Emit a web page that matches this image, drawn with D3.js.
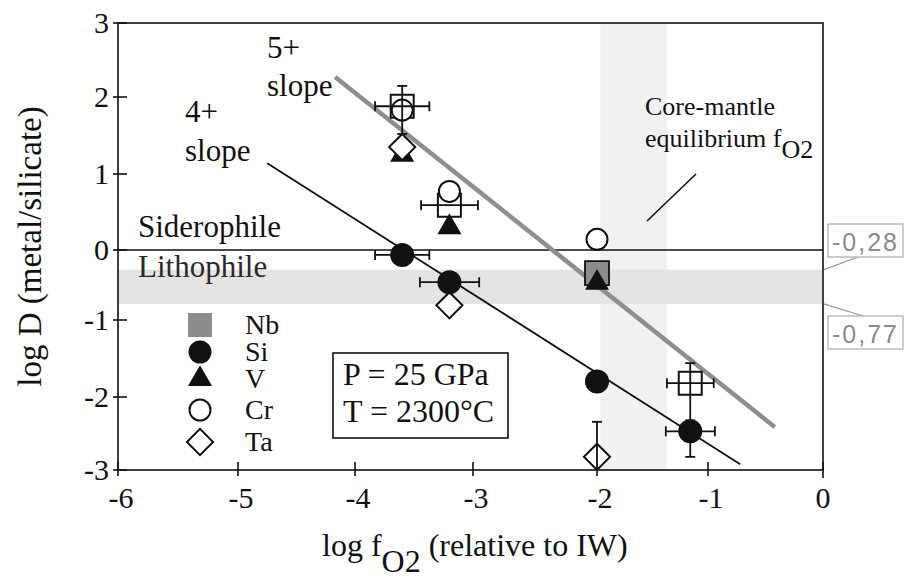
<!DOCTYPE html>
<html>
<head>
<meta charset="utf-8">
<script src="https://cdn.jsdelivr.net/npm/d3@7"></script>
<style>
  html, body { margin: 0; padding: 0; background: #fff; }
  svg { display: block; }
  svg text { font-family: "Liberation Serif", "Times New Roman", Times, "DejaVu Serif", serif; }
  svg text.tag { font-family: "Liberation Sans", Arial, sans-serif; }
</style>
</head>
<body>
<div id="wrapper"></div>
<script>
/* DATA */
// each point: x = log fO2, y = log D, optional xErr and yErr [below, above]
const nbPoints = [{ x: -2, y: -0.33 }];
const siPoints = [
  { x: -3.6, y: -0.07, xErr: 0.23 },
  { x: -3.2, y: -0.46, xErr: 0.25 },
  { x: -2, y: -1.80 },
  { x: -1.16, y: -2.47, xErr: 0.22, yErr: [0.35, 0] }
];
const vPoints = [{ x: -3.6, y: 1.25 }, { x: -3.2, y: 0.30 }, { x: -2, y: -0.47 }];
const crPoints = [{ x: -3.6, y: 1.83 }, { x: -3.2, y: 0.77 }, { x: -2, y: 0.14 }];
const taPoints = [
  { x: -3.6, y: 1.35 },
  { x: -3.2, y: -0.79 },
  { x: -2, y: -2.82, yErr: [0.48, 0.48] }
];
const openSquarePoints = [
  { x: -3.6, y: 1.88, xErr: 0.23, yErr: [0.36, 0.27] },
  { x: -3.2, y: 0.59, xErr: 0.24 },
  { x: -1.16, y: -1.82, xErr: 0.21, yErr: [0.5, 0.26] }
];

const slope4Line = [{ x: -4.75, y: 1.14 }, { x: -0.72, y: -2.92 }];
const slope5Line = [{ x: -4.17, y: 2.27 }, { x: -0.42, y: -2.41 }];

const lithophileBand = [-0.77, -0.28];
const coreMantleBand = [-1.97, -1.37];

const xTicks = [-6, -5, -4, -3, -2, -1, 0];
const yTicks = [-3, -2, -1, 0, 1, 2, 3];

const legendNames = ['Nb', 'Si', 'V', 'Cr', 'Ta'];

/* DIMENSIONS */
const width = 904;
const height = 579;

/* SCALES */
// the scanned figure is slightly uneven, so the scales follow each tick
const xScale = d3.scaleLinear()
  .domain(xTicks)
  .range([118, 238, 355, 473, 597, 708, 823]);

const yScale = d3.scaleLinear()
  .domain(yTicks)
  .range([470, 397, 320, 250, 174, 97, 23]);

const x0 = xScale(-6), x1 = xScale(0);
const yTop = yScale(3), yBottom = yScale(-3);

/* DRAW */
const svg = d3.select('#wrapper')
  .append('svg')
  .attr('width', width)
  .attr('height', height)
  .attr('viewBox', [0, 0, width, height]);

svg.append('defs').append('clipPath').attr('id', 'plot-clip')
  .append('rect')
  .attr('x', x0).attr('y', yTop)
  .attr('width', x1 - x0).attr('height', yBottom - yTop);

// bands
svg.append('rect')
  .attr('x', xScale(coreMantleBand[0]))
  .attr('width', xScale(coreMantleBand[1]) - xScale(coreMantleBand[0]))
  .attr('y', yTop)
  .attr('height', yBottom - yTop)
  .attr('fill', '#f1f1f1');

svg.append('rect')
  .attr('x', x0)
  .attr('width', x1 - x0)
  .attr('y', yScale(lithophileBand[1]))
  .attr('height', yScale(lithophileBand[0]) - yScale(lithophileBand[1]))
  .attr('fill', '#e3e3e3');

// zero line
svg.append('line')
  .attr('x1', x0).attr('x2', x1)
  .attr('y1', yScale(0)).attr('y2', yScale(0))
  .attr('stroke', '#111').attr('stroke-width', 1.6);

// frame
svg.append('rect')
  .attr('x', x0).attr('y', yTop)
  .attr('width', x1 - x0).attr('height', yBottom - yTop)
  .attr('fill', 'none')
  .attr('stroke', '#111')
  .attr('stroke-width', 1.6);

// ticks + labels
const tickGroup = svg.append('g').attr('stroke', '#111').attr('stroke-width', 1.6);
tickGroup.selectAll('.ytick').data(yTicks).enter().append('line')
  .attr('x1', x0 - 5).attr('x2', x0 + 9)
  .attr('y1', d => yScale(d)).attr('y2', d => yScale(d));
tickGroup.selectAll('.xtick').data(xTicks).enter().append('line')
  .attr('x1', d => xScale(d)).attr('x2', d => xScale(d))
  .attr('y1', yBottom - 8).attr('y2', d => d === 0 ? yBottom + 8 : yBottom + 6);

svg.append('g')
  .attr('font-size', 30)
  .attr('text-anchor', 'end')
  .attr('fill', '#111')
  .selectAll('text').data(yTicks).enter().append('text')
  .attr('x', x0 - 9)
  .attr('y', d => yScale(d) + 10)
  .text(d => d);

svg.append('g')
  .attr('font-size', 30)
  .attr('text-anchor', 'middle')
  .attr('fill', '#111')
  .selectAll('text').data(xTicks).enter().append('text')
  .attr('x', d => xScale(d) + (d < 0 ? 3 : 0))
  .attr('y', yBottom + 38)
  .text(d => d);

// axis titles
svg.append('text')
  .attr('transform', `translate(41 ${(yTop + yBottom) / 2}) rotate(-90)`)
  .attr('text-anchor', 'middle')
  .attr('font-size', 33)
  .attr('fill', '#111')
  .text('log D (metal/silicate)');

const xTitle = svg.append('text')
  .attr('x', 322).attr('y', 556)
  .attr('font-size', 32)
  .attr('fill', '#111');
xTitle.append('tspan').text('log f');
xTitle.append('tspan').attr('dy', 16).text('O2');
xTitle.append('tspan').attr('dy', -16).text(' (relative to IW)');

// slope lines
const lineGen = d3.line().x(d => xScale(d.x)).y(d => yScale(d.y));
svg.append('path')
  .attr('d', lineGen(slope4Line))
  .attr('fill', 'none').attr('stroke', '#111').attr('stroke-width', 1.8);
svg.append('path')
  .attr('d', lineGen(slope5Line))
  .attr('fill', 'none').attr('stroke', '#8e8e8e').attr('stroke-width', 4.5);

// annotations
const notes = svg.append('g').attr('font-size', 31).attr('fill', '#111');
notes.append('text').attr('x', 267).attr('y', 58).text('5+');
notes.append('text').attr('x', 267).attr('y', 96).text('slope');
notes.append('text').attr('x', 185).attr('y', 122).text('4+');
notes.append('text').attr('x', 185).attr('y', 161).text('slope');
notes.append('text').attr('x', 138).attr('y', 237).text('Siderophile');
notes.append('text').attr('x', 138).attr('y', 277).attr('fill', '#2a2a2a').text('Lithophile');

const core = svg.append('g').attr('font-size', 26).attr('fill', '#111');
core.append('text').attr('x', 645).attr('y', 115).text('Core-mantle');
const eq = core.append('text').attr('x', 645).attr('y', 147);
eq.append('tspan').text('equilibrium f');
eq.append('tspan').attr('dy', 11).text('O2');
svg.append('line')
  .attr('x1', 647).attr('y1', 221).attr('x2', 696).attr('y2', 174)
  .attr('stroke', '#111').attr('stroke-width', 1.6);

// P T box
svg.append('rect')
  .attr('x', 333).attr('y', 353).attr('width', 175).attr('height', 85)
  .attr('fill', '#fff').attr('stroke', '#111').attr('stroke-width', 1.6);
const pt = svg.append('g').attr('font-size', 32).attr('fill', '#111');
pt.append('text').attr('x', 343).attr('y', 385).text('P = 25 GPa');
pt.append('text').attr('x', 343).attr('y', 422).text('T = 2300°C');

// band value tags on the right
const tags = [
  { value: lithophileBand[1], label: '-0,28', boxY: 224, joinX: 858, joinY: 257 },
  { value: lithophileBand[0], label: '-0,77', boxY: 316, joinX: 863, joinY: 316 }
];
const tagG = svg.append('g');
tags.forEach(t => {
  tagG.append('line')
    .attr('x1', x1 + 1).attr('y1', yScale(t.value))
    .attr('x2', t.joinX).attr('y2', t.joinY)
    .attr('stroke', '#999').attr('stroke-width', 1.2);
  tagG.append('rect')
    .attr('x', 828).attr('y', t.boxY).attr('width', 75).attr('height', 33)
    .attr('fill', '#fff').attr('stroke', '#aaa').attr('stroke-width', 1.2);
  tagG.append('text')
    .attr('class', 'tag')
    .attr('x', 832).attr('y', t.boxY + 27)
    .attr('font-size', 25)
    .attr('letter-spacing', 2)
    .attr('fill', '#8a8a8a')
    .text(t.label);
});

/* MARKERS */
const markers = svg.append('g').attr('clip-path', 'url(#plot-clip)');

const sym = (type, size) => d3.symbol().type(type).size(size)();
const triPath = sym(d3.symbolTriangle, 250);
const squarePath = sym(d3.symbolSquare, 23 * 23);
const nbPath = sym(d3.symbolSquare, 24 * 24);
const diamondPath = sym(d3.symbolSquare, 18.5 * 18.5);

function errorBars(points) {
  const g = markers.append('g').attr('stroke', '#111').attr('stroke-width', 1.8);
  const cap = 5;
  points.forEach(p => {
    const px = xScale(p.x), py = yScale(p.y);
    if (p.xErr) {
      const xa = xScale(p.x - p.xErr), xb = xScale(p.x + p.xErr);
      g.append('line').attr('x1', xa).attr('x2', xb).attr('y1', py).attr('y2', py);
      g.append('line').attr('x1', xa).attr('x2', xa).attr('y1', py - cap).attr('y2', py + cap);
      g.append('line').attr('x1', xb).attr('x2', xb).attr('y1', py - cap).attr('y2', py + cap);
    }
    if (p.yErr) {
      const ya = yScale(p.y - p.yErr[0]), yb = yScale(p.y + p.yErr[1]);
      g.append('line').attr('x1', px).attr('x2', px).attr('y1', ya).attr('y2', yb);
      if (p.yErr[0]) g.append('line').attr('x1', px - cap).attr('x2', px + cap).attr('y1', ya).attr('y2', ya);
      if (p.yErr[1]) g.append('line').attr('x1', px - cap).attr('x2', px + cap).attr('y1', yb).attr('y2', yb);
    }
  });
}

function pathMarks(points, path, fill, stroke, strokeWidth, rotate) {
  markers.append('g').selectAll('path').data(points).enter().append('path')
    .attr('d', path)
    .attr('transform', d => `translate(${xScale(d.x)} ${yScale(d.y)})${rotate ? ' rotate(45)' : ''}`)
    .attr('fill', fill)
    .attr('stroke', stroke)
    .attr('stroke-width', strokeWidth);
}

function circleMarks(points, r, fill, stroke, strokeWidth) {
  markers.append('g').selectAll('circle').data(points).enter().append('circle')
    .attr('cx', d => xScale(d.x)).attr('cy', d => yScale(d.y)).attr('r', r)
    .attr('fill', fill).attr('stroke', stroke).attr('stroke-width', strokeWidth);
}

pathMarks(nbPoints, nbPath, '#8c8c8c', '#111', 1.8);
pathMarks(vPoints, triPath, '#111', 'none', 0);
pathMarks(openSquarePoints, squarePath, 'none', '#111', 2);
circleMarks(crPoints, 10.5, '#fff', '#111', 2);
errorBars(openSquarePoints);
pathMarks(taPoints, diamondPath, '#fff', '#111', 2, true);
errorBars(taPoints);
circleMarks(siPoints, 12, '#111', 'none', 0);
errorBars(siPoints);

/* LEGEND */
const legendY = [325, 352, 379, 410, 442];
const legend = svg.append('g').attr('transform', 'translate(200 0)');
legend.append('path').attr('d', nbPath).attr('transform', `translate(0 ${legendY[0]})`).attr('fill', '#8c8c8c');
legend.append('circle').attr('cy', legendY[1]).attr('r', 11.5).attr('fill', '#111');
legend.append('path').attr('d', triPath).attr('transform', `translate(0 ${legendY[2]})`).attr('fill', '#111');
legend.append('circle').attr('cy', legendY[3]).attr('r', 10.5).attr('fill', '#fff').attr('stroke', '#111').attr('stroke-width', 2);
legend.append('path').attr('d', diamondPath).attr('transform', `translate(0 ${legendY[4]}) rotate(45)`)
  .attr('fill', '#fff').attr('stroke', '#111').attr('stroke-width', 2);

legend.append('g')
  .attr('font-size', 28)
  .attr('fill', '#111')
  .selectAll('text').data(legendNames).enter().append('text')
  .attr('x', 45)
  .attr('y', (d, i) => legendY[i] + 9)
  .text(d => d);
</script>
</body>
</html>
